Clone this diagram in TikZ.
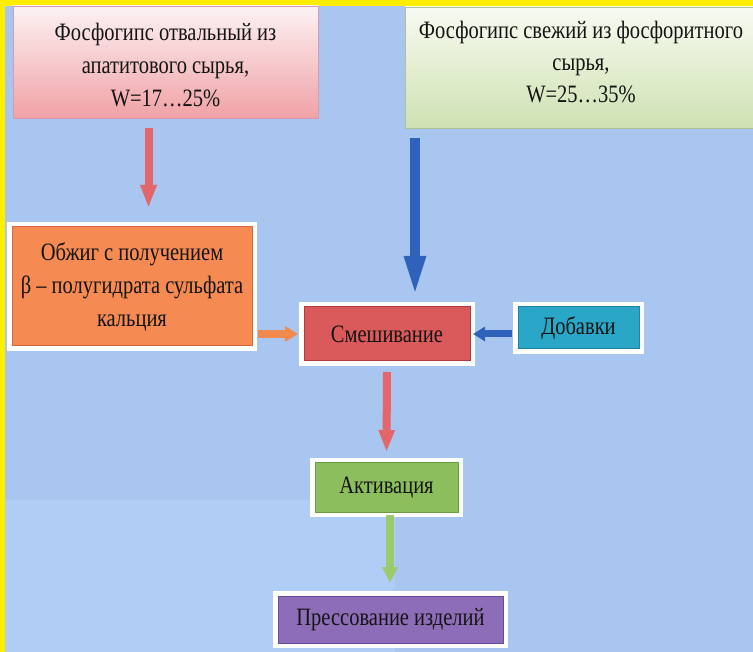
\documentclass[tikz,border=0pt]{standalone}
\usepackage{fontspec}
\setmainfont{Liberation Serif}[FakeStretch=0.82]
\usetikzlibrary{arrows.meta}
\definecolor{bg}{HTML}{A8C6F0}
\definecolor{bglight}{HTML}{AFCDF5}
\definecolor{ylw}{HTML}{FFEE00}
\definecolor{txt}{HTML}{141414}
\definecolor{pinktop}{HTML}{FCF2F3}
\definecolor{pinkbot}{HTML}{F0A2A6}
\definecolor{pinkedge}{HTML}{D89AAE}
\definecolor{greentop}{HTML}{F8FAF2}
\definecolor{greenbot}{HTML}{CFE2B2}
\definecolor{orangefill}{HTML}{F58A52}
\definecolor{orangeedge}{HTML}{D8683A}
\definecolor{redfill}{HTML}{DA5A5C}
\definecolor{rededge}{HTML}{B23A3E}
\definecolor{tealfill}{HTML}{2AA6C6}
\definecolor{tealedge}{HTML}{1F83A2}
\definecolor{grnfill}{HTML}{8CBE5E}
\definecolor{grnedge}{HTML}{6C9C42}
\definecolor{purfill}{HTML}{8E6DB8}
\definecolor{puredge}{HTML}{6A4A98}
\definecolor{redarr}{HTML}{E2666A}
\definecolor{bluearr}{HTML}{2F62BA}
\definecolor{orangearr}{HTML}{F08A4E}
\definecolor{greenarr}{HTML}{9CCB6C}
\tikzset{
  framed/.style={preaction={draw=white, line width=10pt}, line width=1pt,
    outer sep=0pt, inner sep=0pt, text=txt, align=center,
    font=\fontsize{25}{33}\selectfont},
  topbox/.style={outer sep=0pt, inner sep=0pt, text=txt, align=center,
    font=\fontsize{25}{33}\selectfont},
  blk/.style n args={4}{draw=#1, line width=#2, -{Triangle[width=#3, length=#4]}}
}
\begin{document}
\begin{tikzpicture}[x=1pt,y=-1pt]
\clip (0,0) rectangle (753,652);
\fill[bg] (0,0) rectangle (753,652);
\fill[bglight] (5,500) rectangle (395,652);
\fill[ylw] (0,0) rectangle (753,6);
\fill[ylw] (0,0) rectangle (5,652);

\node[topbox, draw=pinkedge, line width=0.8pt, top color=pinktop, bottom color=pinkbot,
  minimum width=305pt, minimum height=112pt] (pink) at (165.5,62)
  {\rule{0pt}{24pt}Фосфогипс отвальный из\\апатитового сырья,\\W=17…25\%};
\node[topbox, draw=greenbot!85!black, line width=0.6pt, top color=greentop, bottom color=greenbot,
  minimum width=352pt, minimum height=121pt, text depth=11pt,
  font=\fontsize{25}{32}\selectfont] (green) at (581,67.5)
  {Фосфогипс свежий из фосфоритного\\сырья,\\W=25…35\%};

\node[framed, draw=orangeedge, fill=orangefill, minimum width=240pt, minimum height=119pt]
  (obzhig) at (132,286.5) {Обжиг с получением\\β – полугидрата сульфата\\кальция};
\node[framed, draw=rededge, fill=redfill, minimum width=166pt, minimum height=54pt]
  (mix) at (387,334) {Смешивание};
\node[framed, draw=tealedge, fill=tealfill, minimum width=121pt, minimum height=42pt]
  (add) at (578.5,328) {Добавки};
\node[framed, draw=grnedge, fill=grnfill, minimum width=143pt, minimum height=49pt]
  (act) at (386.5,487.5) {Активация};
\node[framed, draw=puredge, fill=purfill, minimum width=225pt, minimum height=47pt]
  (press) at (390.5,619.5) {Прессование изделий};

\draw[blk={redarr}{8pt}{15pt}{23pt}, shorten <=10pt, shorten >=19pt]
  ([xshift=-17pt]pink.south) -- ([xshift=-17pt]pink.south |- obzhig.north);
\draw[blk={bluearr}{10pt}{19pt}{42pt}, shorten <=10pt, shorten >=9pt]
  ([xshift=-166pt]green.south) -- ([xshift=-166pt]green.south |- mix.north);
\draw[blk={orangearr}{8pt}{15pt}{13pt}, shorten <=6pt, shorten >=6pt]
  (obzhig.east |- mix.west) -- (mix.west);
\draw[blk={bluearr}{7pt}{14pt}{12pt}, shorten <=6pt, shorten >=3pt]
  (add.west |- mix.east) -- (mix.east);
\draw[blk={redarr}{8pt}{15pt}{22pt}, shorten <=11pt, shorten >=11pt]
  (mix.south) -- (act.north);
\draw[blk={greenarr}{8pt}{15pt}{16pt}, shorten <=3pt, shorten >=13pt]
  ([xshift=3.5pt]act.south) -- ([xshift=3.5pt]act.south |- press.north);
\end{tikzpicture}
\end{document}
